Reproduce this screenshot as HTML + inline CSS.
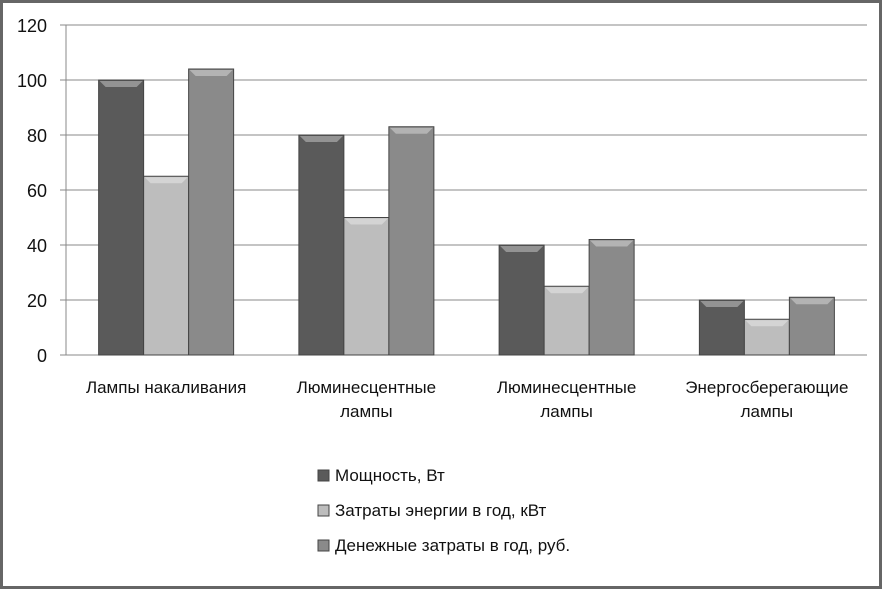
<!DOCTYPE html>
<html><head><meta charset="utf-8"><style>
html,body{margin:0;padding:0;background:#fff}
svg{display:block;font-family:"Liberation Sans","DejaVu Sans",sans-serif}
</style></head><body>
<svg id="chart" width="883" height="590">
<rect x="1.5" y="1.5" width="879" height="586" fill="#fff" stroke="#666" stroke-width="3"/>
<g id="grid"></g><g id="bars"></g><g id="labels"></g><g id="legend"></g>
</svg>
<script>
const categories=[["Лампы накаливания"],["Люминесцентные","лампы"],["Люминесцентные","лампы"],["Энергосберегающие","лампы"]];
const seriesNames=["Мощность, Вт","Затраты энергии  в год, кВт","Денежные затраты в год, руб."];
const power=[100,80,40,20];
const energy=[65,50,25,13];
const money=[104,83,42,21];
const ticks=[0,20,40,60,80,100,120];
const NS="http://www.w3.org/2000/svg";
const x0=66,x1=867,y0=355,y1=25,yMax=120;
const y=v=>y0-(v/yMax)*(y0-y1);
const gw=(x1-x0)/categories.length;
const colors=["#5a5a5a","#bdbdbd","#8a8a8a"];
function mk(t,a,p){const e=document.createElementNS(NS,t);for(const k in a)e.setAttribute(k,a[k]);p.appendChild(e);return e;}
const grid=document.getElementById('grid');
ticks.forEach(t=>{
 const l=mk('line',{x1:x0-6,x2:x1,y1:y(t),y2:y(t),stroke:'#888','stroke-width':1},grid);
 
 
 const tx=mk('text',{x:47,y:y(t)+7,'text-anchor':'end','font-size':18,fill:'#111'},grid);
 tx.textContent=t;
 
 
});
const ax=mk('line',{x1:x0,x2:x0,y1:y1,y2:y0,stroke:'#888'},grid);


const bars=document.getElementById('bars');
const series=[power,energy,money];
const bw=45;
categories.forEach((c,i)=>{
 const start=x0+gw*i+(gw-3*bw)/2;
 series.forEach((s,j)=>{
  const bx=start+j*bw,by=y(s[i]);
  const r=mk('rect',{x:bx,y:by,width:bw,height:y0-by,fill:colors[j],stroke:'#444','stroke-width':1},bars);
  
  
  const b=mk('polygon',{points:`${bx+1},${by+1} ${bx+bw-1},${by+1} ${bx+bw-7},${by+7} ${bx+7},${by+7}`,fill:'#fff',opacity:0.35},bars);
  
  
 });
 const lab=document.getElementById('labels');
 c.forEach((line,k)=>{
  const t=mk('text',{x:x0+gw*i+gw/2,y:393+k*24,'text-anchor':'middle','font-size':17,fill:'#111'},lab);
  t.textContent=line;
  
  
 });
});
const leg=document.getElementById('legend');
seriesNames.forEach((n,j)=>{
 const ly=479+j*35;
 const r=mk('rect',{x:318,y:ly-9,width:11,height:11,fill:colors[j],stroke:'#444'},leg);
 
 
 const t=mk('text',{x:335,y:ly+2,'font-size':17,fill:'#111'},leg);
 t.textContent=n;
 
 
});
</script>
</body></html>
